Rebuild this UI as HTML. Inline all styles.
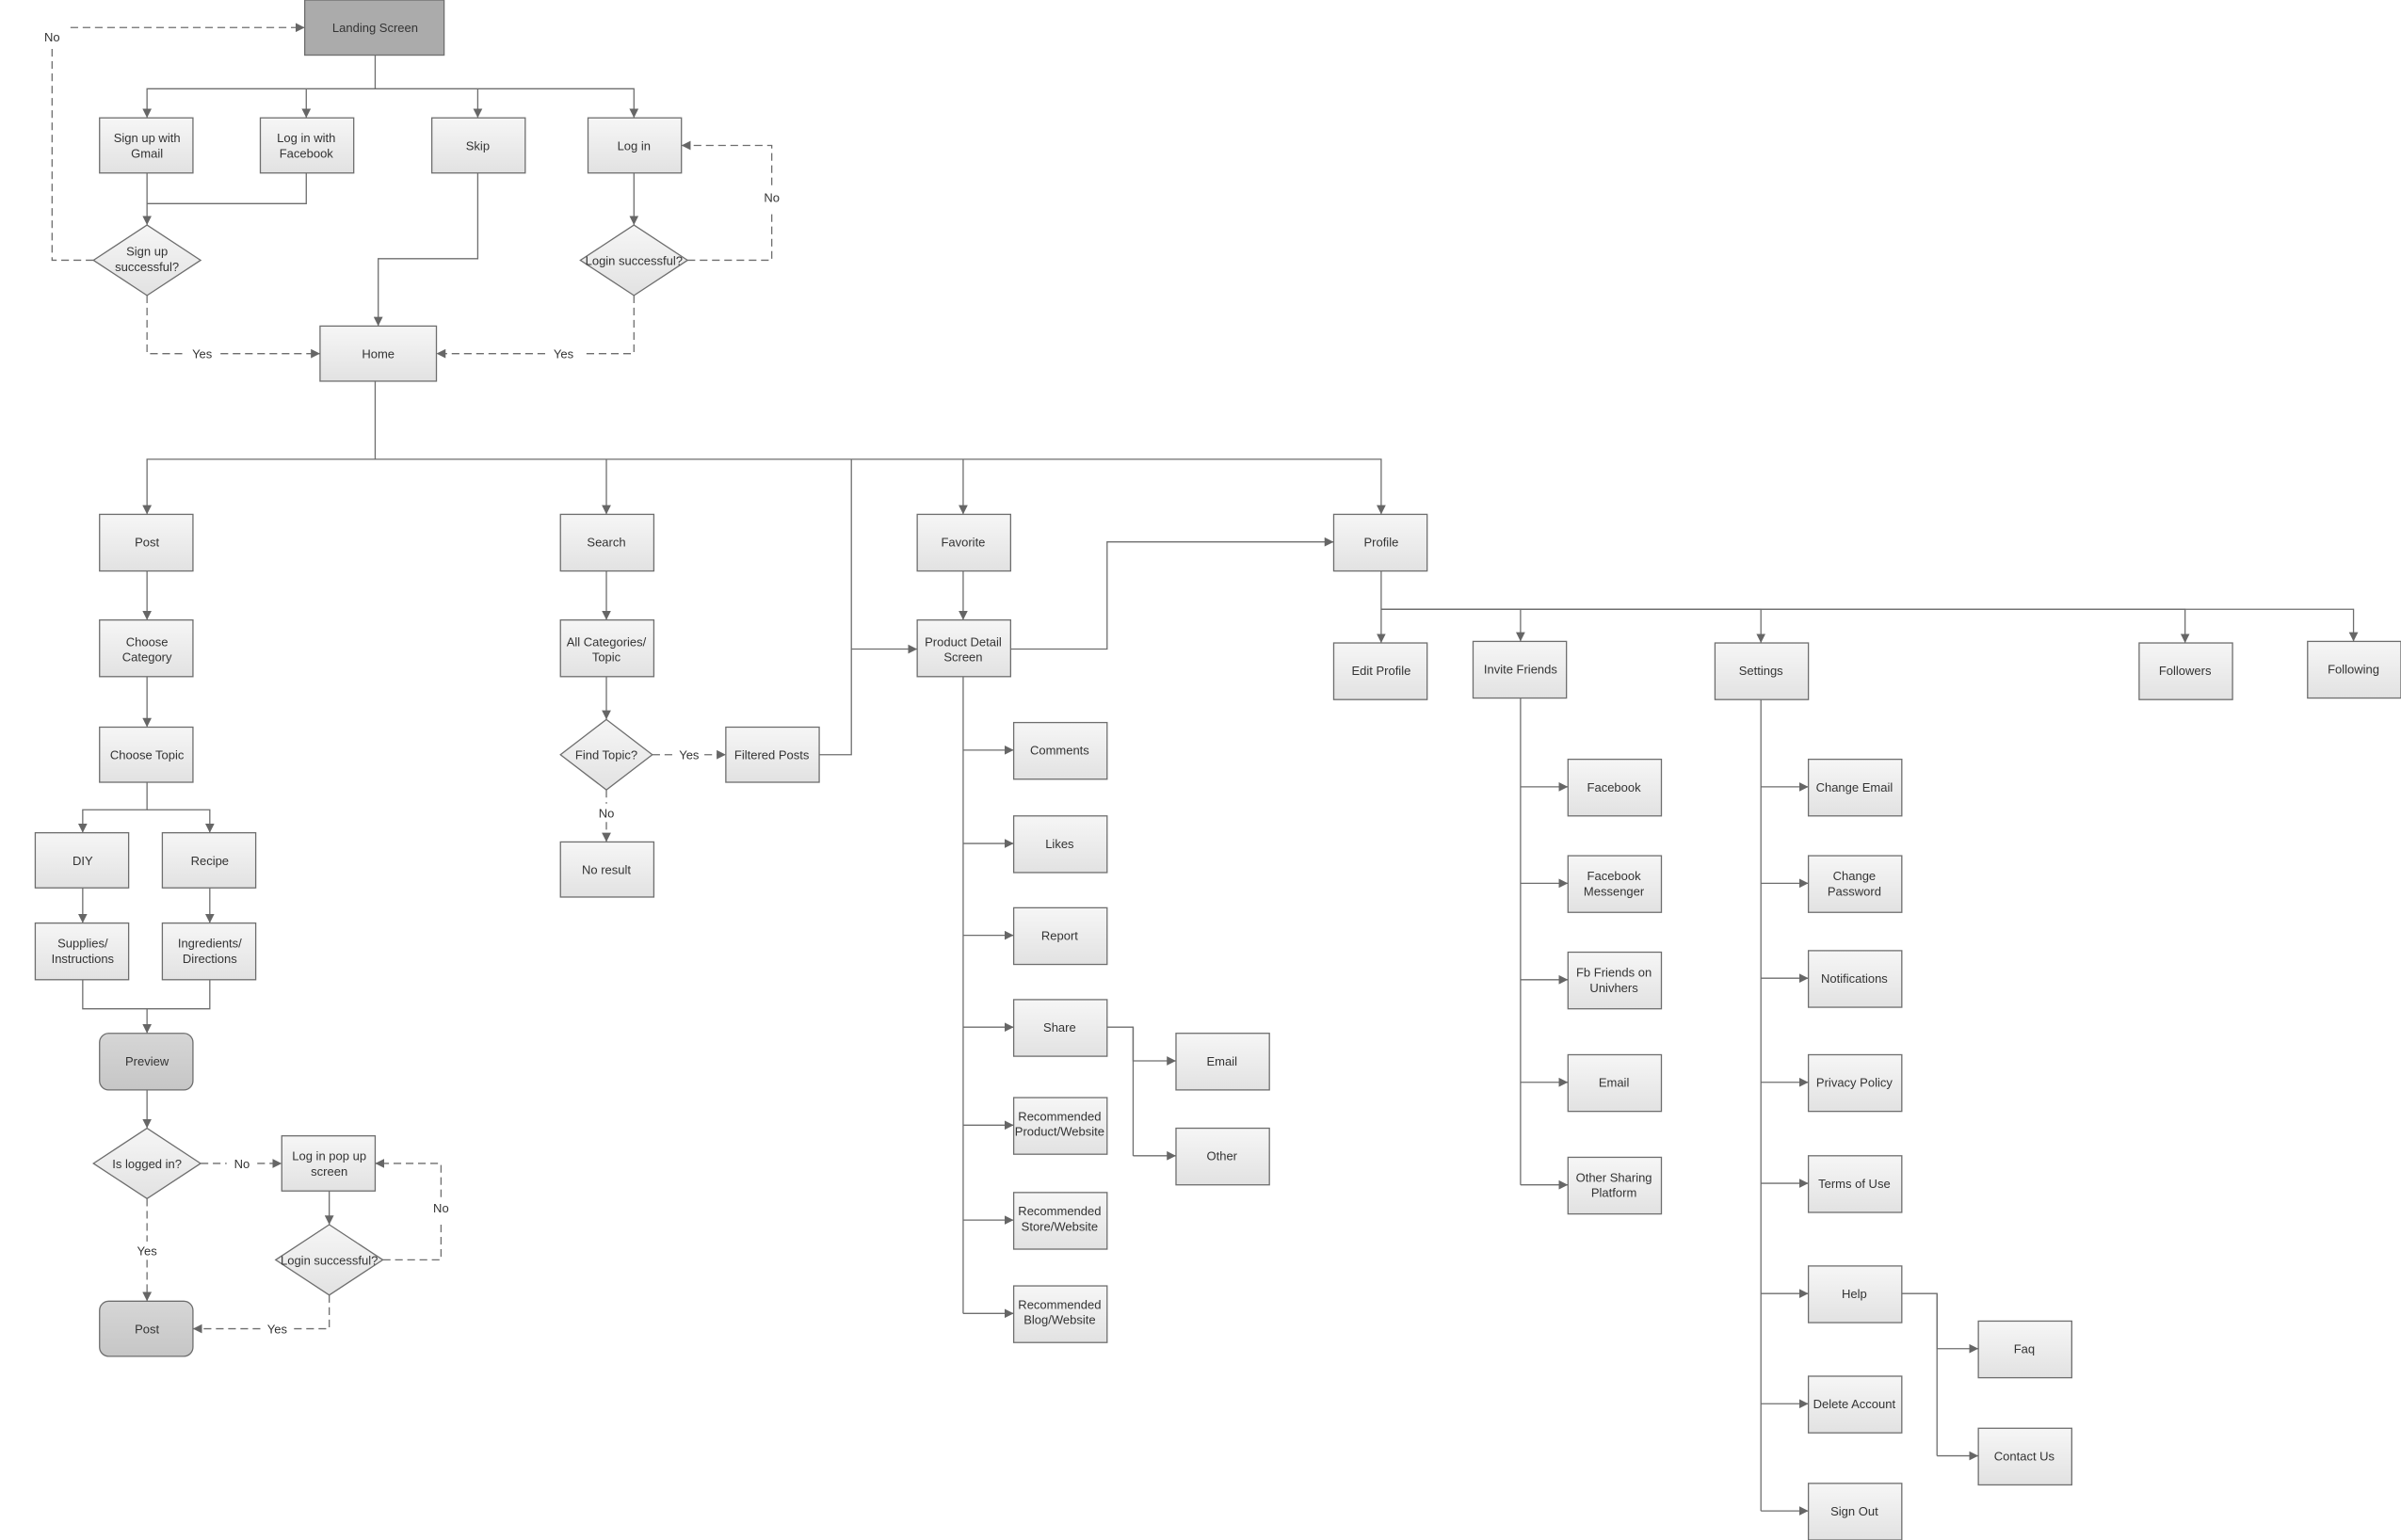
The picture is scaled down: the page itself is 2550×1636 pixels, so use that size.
<!DOCTYPE html>
<html><head><meta charset="utf-8"><style>
html,body{margin:0;padding:0;background:#fff;width:2550px;height:1636px;overflow:hidden}
svg{display:block}
text{font-family:"Liberation Sans",Arial,sans-serif;font-size:8px;fill:#333;text-anchor:middle}
.b{fill:url(#g);stroke:#6e6e6e;stroke-width:0.8}
.l{fill:none;stroke:#6e6e6e;stroke-width:0.8}
.d{fill:none;stroke:#6e6e6e;stroke-width:0.8;stroke-dasharray:5,3}
</style></head><body>
<svg width="2550" height="1636" viewBox="0 0 1568 1006" xmlns="http://www.w3.org/2000/svg">
<defs>
<linearGradient id="g" x1="0" y1="0" x2="0" y2="1"><stop offset="0" stop-color="#f6f6f6"/><stop offset="1" stop-color="#e2e2e2"/></linearGradient>
<linearGradient id="g2" x1="0" y1="0" x2="0" y2="1"><stop offset="0" stop-color="#d6d6d6"/><stop offset="1" stop-color="#c6c6c6"/></linearGradient>
<marker id="a" viewBox="0 0 10 10" refX="10" refY="5" markerWidth="6" markerHeight="6" orient="auto" markerUnits="userSpaceOnUse"><path d="M0,0L10,5L0,10z" fill="#666"/></marker>
</defs>

<g class="l">
<path d="M200,113V133H96"/>
<path d="M137,640V659H96"/>
<path d="M535,493H556V300"/>
<path d="M629,442V858"/>
<path d="M993,456V774"/>
<path d="M1150,457V987"/>
<path d="M740,671V755"/>
<path d="M1265,845V951"/>
</g>
<g class="d">
<path d="M61,170H34V31"/>
<path d="M96,193V231H122"/>
<path d="M414,193V231H380"/>
<path d="M449,170H504V137"/>
<path d="M426,493H440"/>
<path d="M396,516V525"/>
<path d="M131,760H148"/>
<path d="M96,783V811"/>
<path d="M250,823H288V797"/>
<path d="M215,846V868H192"/>
</g>
<g class="l" marker-end="url(#a)">
<path d="M245,36V58H96V77"/><path d="M200,58V77"/><path d="M312,58V77"/><path d="M245,58H414V77"/>
<path d="M96,113V147"/>
<path d="M312,113V169H247V213"/>
<path d="M414,113V147"/>
<path d="M245,249V300H96V336"/><path d="M396,300V336"/><path d="M629,300V336"/><path d="M245,300H902V336"/>
<path d="M96,373V405"/><path d="M96,442V475"/>
<path d="M96,511V529H54V544"/><path d="M96,529H137V544"/>
<path d="M54,580V603"/><path d="M137,580V603"/>
<path d="M54,640V659H96V675"/>
<path d="M96,712V737"/>
<path d="M215,778V800"/>
<path d="M396,373V405"/><path d="M396,442V470"/>
<path d="M629,373V405"/>
<path d="M556,424H599"/>
<path d="M660,424H723V354H871"/>
<path d="M902,373V420"/><path d="M902,398H993V419"/><path d="M902,398H1150V420"/><path d="M902,398H1427V420"/><path d="M902,398H1537V419"/>
<path d="M629,490H662"/><path d="M629,551H662"/><path d="M629,611H662"/><path d="M629,671H662"/><path d="M629,735H662"/><path d="M629,797H662"/><path d="M629,858H662"/>
<path d="M723,671H740V693H768"/><path d="M740,755H768"/>
<path d="M993,514H1024"/><path d="M993,577H1024"/><path d="M993,640H1024"/><path d="M993,707H1024"/><path d="M993,774H1024"/>
<path d="M1150,514H1181"/><path d="M1150,577H1181"/><path d="M1150,639H1181"/><path d="M1150,707H1181"/><path d="M1150,773H1181"/><path d="M1150,845H1181"/><path d="M1150,917H1181"/><path d="M1150,987H1181"/>
<path d="M1242,845H1265V881H1292"/><path d="M1265,951H1292"/>
</g>
<g class="d" marker-end="url(#a)">
<path d="M46,18H199"/>
<path d="M144,231H209"/>
<path d="M356,231H285"/>
<path d="M504,121V95H445"/>
<path d="M460,493H474"/>
<path d="M396,537V550"/>
<path d="M168,760H184"/>
<path d="M96,823V850"/>
<path d="M288,782V760H245"/>
<path d="M170,868H126"/>
</g>

<rect x="199" y="0" width="91" height="36" fill="#ababab" stroke="#6e6e6e" stroke-width="0.8"/>
<g class="b">
<rect x="65" y="77" width="61" height="36"/><rect x="170" y="77" width="61" height="36"/><rect x="282" y="77" width="61" height="36"/><rect x="384" y="77" width="61" height="36"/>
<path d="M96,147L131,170L96,193L61,170Z"/><path d="M414,147L449,170L414,193L379,170Z"/>
<rect x="209" y="213" width="76" height="36"/>
<rect x="65" y="336" width="61" height="37"/><rect x="366" y="336" width="61" height="37"/><rect x="599" y="336" width="61" height="37"/><rect x="871" y="336" width="61" height="37"/>
<rect x="65" y="405" width="61" height="37"/><rect x="65" y="475" width="61" height="36"/>
<rect x="23" y="544" width="61" height="36"/><rect x="106" y="544" width="61" height="36"/>
<rect x="23" y="603" width="61" height="37"/><rect x="106" y="603" width="61" height="37"/>
<path d="M96,737L131,760L96,783L61,760Z"/>
<rect x="184" y="742" width="61" height="36"/>
<path d="M215,800L250,823L215,846L180,823Z"/>
<rect x="366" y="405" width="61" height="37"/>
<path d="M396,470L426,493L396,516L366,493Z"/>
<rect x="474" y="475" width="61" height="36"/><rect x="366" y="550" width="61" height="36"/>
<rect x="599" y="405" width="61" height="37"/>
<rect x="662" y="472" width="61" height="37"/><rect x="662" y="533" width="61" height="37"/><rect x="662" y="593" width="61" height="37"/><rect x="662" y="653" width="61" height="37"/><rect x="662" y="717" width="61" height="37"/><rect x="662" y="779" width="61" height="37"/><rect x="662" y="840" width="61" height="37"/>
<rect x="768" y="675" width="61" height="37"/><rect x="768" y="737" width="61" height="37"/>
<rect x="871" y="420" width="61" height="37"/><rect x="962" y="419" width="61" height="37"/><rect x="1120" y="420" width="61" height="37"/><rect x="1397" y="420" width="61" height="37"/><rect x="1507" y="419" width="61" height="37"/>
<rect x="1024" y="496" width="61" height="37"/><rect x="1024" y="559" width="61" height="37"/><rect x="1024" y="622" width="61" height="37"/><rect x="1024" y="689" width="61" height="37"/><rect x="1024" y="756" width="61" height="37"/>
<rect x="1181" y="496" width="61" height="37"/><rect x="1181" y="559" width="61" height="37"/><rect x="1181" y="621" width="61" height="37"/><rect x="1181" y="689" width="61" height="37"/><rect x="1181" y="755" width="61" height="37"/><rect x="1181" y="827" width="61" height="37"/><rect x="1181" y="899" width="61" height="37"/><rect x="1181" y="969" width="61" height="37"/>
<rect x="1292" y="863" width="61" height="37"/><rect x="1292" y="933" width="61" height="37"/>
</g>
<rect x="65" y="675" width="61" height="37" rx="6" fill="url(#g2)" stroke="#6e6e6e" stroke-width="0.8"/>
<rect x="65" y="850" width="61" height="36" rx="6" fill="url(#g2)" stroke="#6e6e6e" stroke-width="0.8"/>

<g>
<text x="245" y="21">Landing Screen</text>
<text x="96" y="93">Sign up with</text><text x="96" y="103">Gmail</text>
<text x="200" y="93">Log in with</text><text x="200" y="103">Facebook</text>
<text x="312" y="98">Skip</text><text x="414" y="98">Log in</text>
<text x="96" y="167">Sign up</text><text x="96" y="177">successful?</text>
<text x="414" y="173">Login successful?</text>
<text x="247" y="234">Home</text>
<text x="34" y="27">No</text><text x="132" y="234">Yes</text><text x="368" y="234">Yes</text><text x="504" y="132">No</text>
<text x="96" y="357">Post</text><text x="396" y="357">Search</text><text x="629" y="357">Favorite</text><text x="902" y="357">Profile</text>
<text x="96" y="422">Choose</text><text x="96" y="432">Category</text>
<text x="96" y="496">Choose Topic</text>
<text x="54" y="565">DIY</text><text x="137" y="565">Recipe</text>
<text x="54" y="619">Supplies/</text><text x="54" y="629">Instructions</text>
<text x="137" y="619">Ingredients/</text><text x="137" y="629">Directions</text>
<text x="96" y="696">Preview</text>
<text x="96" y="763">Is logged in?</text><text x="158" y="763">No</text><text x="96" y="820">Yes</text>
<text x="215" y="758">Log in pop up</text><text x="215" y="768">screen</text>
<text x="215" y="826">Login successful?</text><text x="288" y="792">No</text><text x="181" y="871">Yes</text>
<text x="96" y="871">Post</text>
<text x="396" y="422">All Categories/</text><text x="396" y="432">Topic</text>
<text x="396" y="496">Find Topic?</text><text x="450" y="496">Yes</text><text x="396" y="534">No</text>
<text x="504" y="496">Filtered Posts</text><text x="396" y="571">No result</text>
<text x="629" y="422">Product Detail</text><text x="629" y="432">Screen</text>
<text x="692" y="493">Comments</text><text x="692" y="554">Likes</text><text x="692" y="614">Report</text><text x="692" y="674">Share</text>
<text x="692" y="732">Recommended</text><text x="692" y="742">Product/Website</text>
<text x="692" y="794">Recommended</text><text x="692" y="804">Store/Website</text>
<text x="692" y="855">Recommended</text><text x="692" y="865">Blog/Website</text>
<text x="798" y="696">Email</text><text x="798" y="758">Other</text>
<text x="902" y="441">Edit Profile</text><text x="993" y="440">Invite Friends</text><text x="1150" y="441">Settings</text><text x="1427" y="441">Followers</text><text x="1537" y="440">Following</text>
<text x="1054" y="517">Facebook</text>
<text x="1054" y="575">Facebook</text><text x="1054" y="585">Messenger</text>
<text x="1054" y="638">Fb Friends on</text><text x="1054" y="648">Univhers</text>
<text x="1054" y="710">Email</text>
<text x="1054" y="772">Other Sharing</text><text x="1054" y="782">Platform</text>
<text x="1211" y="517">Change Email</text>
<text x="1211" y="575">Change</text><text x="1211" y="585">Password</text>
<text x="1211" y="642">Notifications</text><text x="1211" y="710">Privacy Policy</text><text x="1211" y="776">Terms of Use</text>
<text x="1211" y="848">Help</text><text x="1211" y="920">Delete Account</text><text x="1211" y="990">Sign Out</text>
<text x="1322" y="884">Faq</text><text x="1322" y="954">Contact Us</text>
</g>
</svg>
</body></html>
